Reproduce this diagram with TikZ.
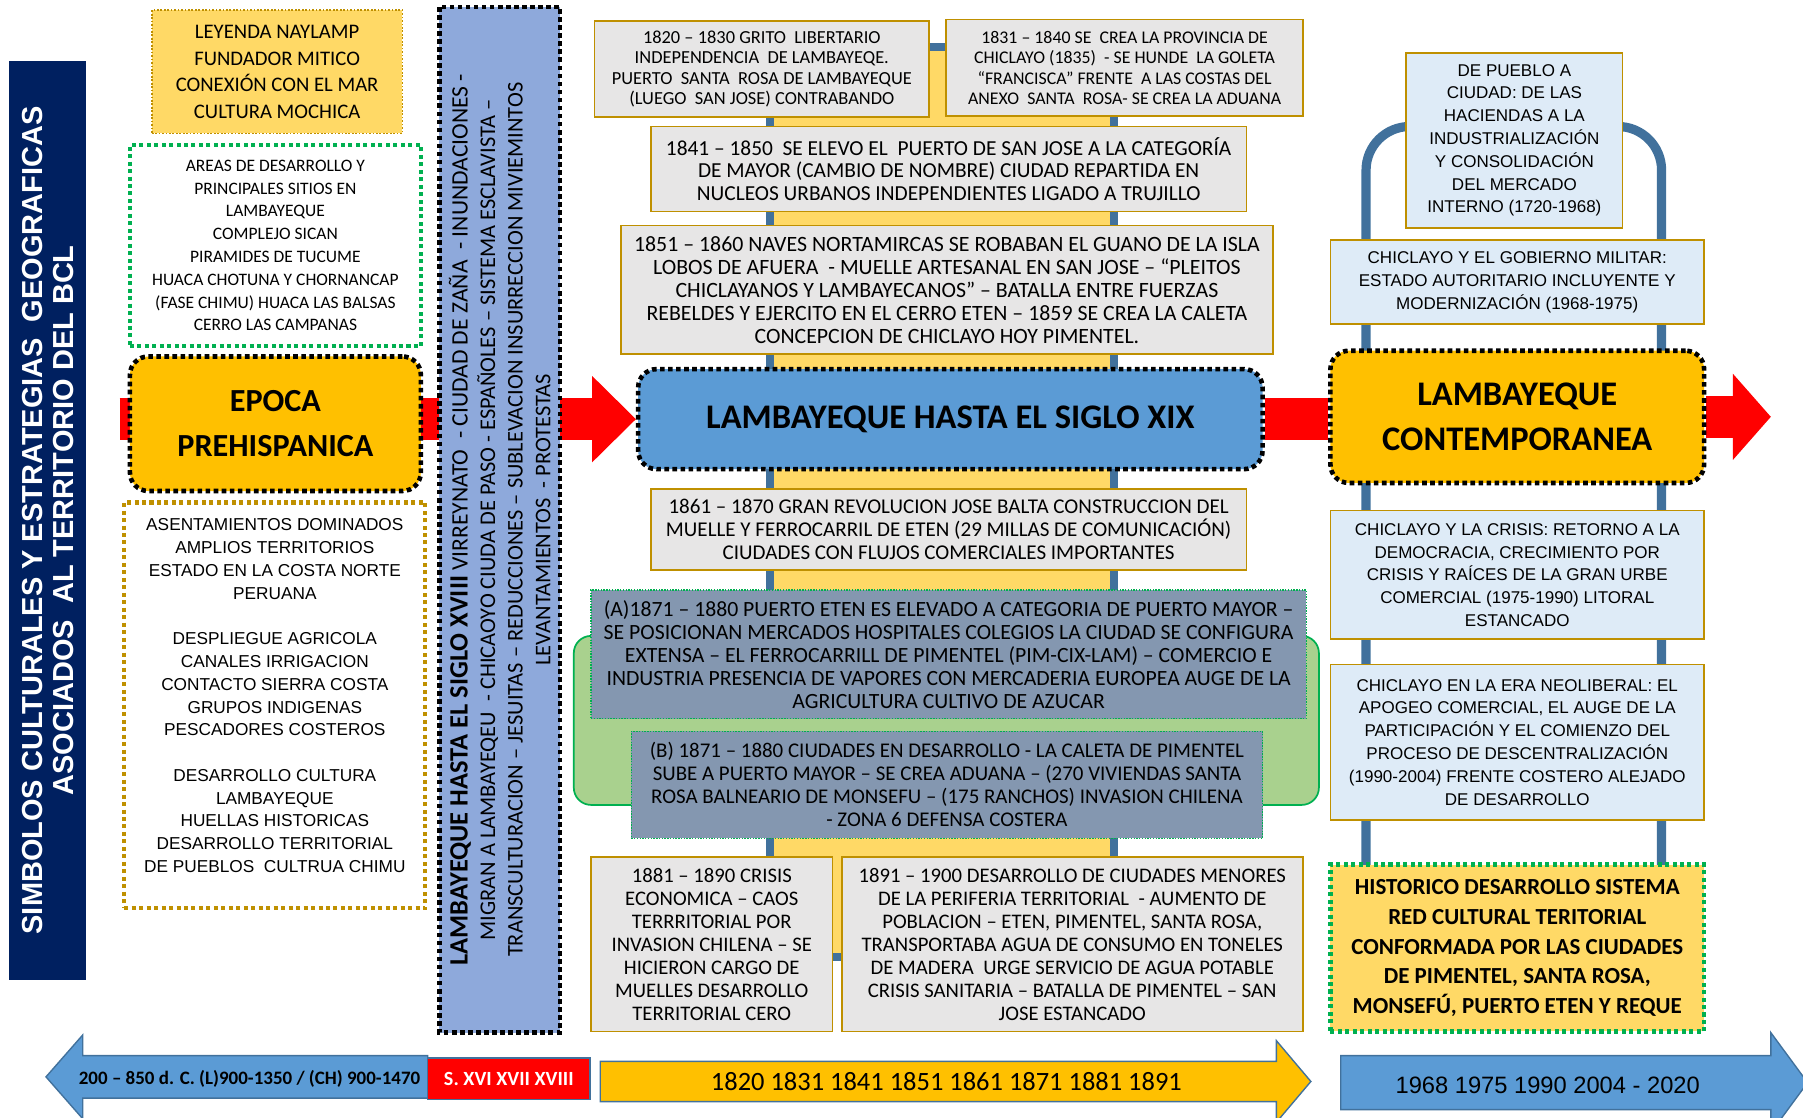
\documentclass[tikz,border=0pt]{standalone}
\usepackage{fontspec}
\setmainfont{Carlito}
\newfontfamily\arialfont{Liberation Sans}
\usetikzlibrary{calc,backgrounds}
\definecolor{navy}{HTML}{002060}
\definecolor{goldline}{HTML}{BF9000}
\definecolor{goldfill}{HTML}{FFD966}
\definecolor{orangefill}{HTML}{FFC000}
\definecolor{greendot}{HTML}{00B050}
\definecolor{greylight}{HTML}{E7E6E6}
\definecolor{bluemain}{HTML}{5B9BD5}
\definecolor{bluevert}{HTML}{8EA9DB}
\definecolor{slate}{HTML}{8497B0}
\definecolor{greenbg}{HTML}{A9D18E}
\definecolor{bluelight}{HTML}{DEEBF7}
\definecolor{steel}{HTML}{41719C}
\definecolor{redbar}{HTML}{FF0000}
\tikzset{
  dims/.style 2 args={minimum width=#1pt, minimum height=#2pt},
  greybox/.style={draw=goldline, fill=greylight, line width=1.5pt, align=center, inner sep=0pt, font=\fontsize{18}{20}\selectfont},
  lightbox/.style={draw=goldline, fill=bluelight, line width=1.5pt, align=center, inner sep=0pt, font=\arialfont\fontsize{14.8}{19.8}\selectfont},
  slatebox/.style={draw=greendot, fill=slate, line width=1.2pt, dash pattern=on 1.2pt off 1.2pt, align=center, inner sep=0pt, font=\fontsize{18}{20}\selectfont},
  bigbox/.style={draw=black, line width=4pt, dash pattern=on 4pt off 3pt, rounded corners=16pt, align=center, inner sep=0pt, font=\bfseries\fontsize{28}{39}\selectfont},
  dotbox/.style={line width=3.5pt, dash pattern=on 3.5pt off 3pt, align=center, inner sep=0pt},
  timebar/.style={draw=steel, line width=1.2pt}
}
\begin{document}
\begin{tikzpicture}[x=1pt, y=-1pt]
\useasboundingbox (0,0) rectangle (1568,972);
\coordinate (rojoinicio) at (104,364.5);

% columna izquierda
\node (titulo) [rotate=90, dims={799}{67}, fill=navy, text=white, align=center, inner sep=0pt, font=\arialfont\bfseries\fontsize{25.2}{27}\selectfont] at (41.5,452.5) {SIMBOLOS CULTURALES Y ESTRATEGIAS \ GEOGRAFICAS\\ASOCIADOS \ AL TERRITORIO DEL BCL};
\node (leyenda) [dims={218}{107}, fill=goldfill, draw=goldline, line width=1.5pt, dash pattern=on 1.5pt off 1.5pt, align=center, inner sep=0pt, font=\fontsize{18}{23.3}\selectfont] at (241,62.5) {LEYENDA NAYLAMP\\FUNDADOR MITICO\\CONEXIÓN CON EL MAR\\CULTURA MOCHICA};
\node (areas) [dotbox, dims={253}{175}, fill=white, draw=greendot, font=\fontsize{15.2}{19.8}\selectfont] at (239.5,213.5) {AREAS DE DESARROLLO Y\\PRINCIPALES SITIOS EN\\LAMBAYEQUE\\COMPLEJO SICAN\\PIRAMIDES DE TUCUME\\HUACA CHOTUNA Y CHORNANCAP\\(FASE CHIMU) HUACA LAS BALSAS\\CERRO LAS CAMPANAS};
\node (epoca) [bigbox, dims={253}{117}, fill=orangefill] at (239.5,368.5) {EPOCA\\PREHISPANICA};
\node (asentamientos) [dotbox, dims={262}{353}, fill=white, draw=goldline] at (239,613.5) {};
\node (asenttexto) [align=center, font=\arialfont\fontsize{15}{19.8}\selectfont] at (239,605) {ASENTAMIENTOS DOMINADOS\\AMPLIOS TERRITORIOS\\ESTADO EN LA COSTA NORTE\\PERUANA\\[19.8pt]DESPLIEGUE AGRICOLA\\CANALES IRRIGACION\\CONTACTO SIERRA COSTA\\GRUPOS INDIGENAS\\PESCADORES COSTEROS\\[19.8pt]DESARROLLO CULTURA\\LAMBAYEQUE\\HUELLAS HISTORICAS\\DESARROLLO TERRITORIAL\\DE PUEBLOS \ CULTRUA CHIMU};
\node (siglo18) [rotate=90, dims={892}{105}, fill=bluevert, draw=black, line width=4pt, dash pattern=on 4pt off 3pt, align=center, inner sep=0pt, font=\fontsize{19.5}{24}\selectfont] at (434.5,452) {{\bfseries\fontsize{23}{24}\selectfont LAMBAYEQUE HASTA EL SIGLO XVIII} {\fontsize{20.5}{24}\selectfont VIRREYNATO \ - CIUDAD DE ZAÑA \ - INUNDACIONES -}\\MIGRAN A LAMBAYEQEU \ - CHICAOYO CIUDA DE PASO - ESPAÑOLES – SISTEMA ESCLAVISTA –\\TRANSCULTURACION – JESUITAS – REDUCCIONES – SUBLEVACION INSURRECCION MIVIEMINTOS\\LEVANTAMIENTOS \ - PROTESTAS};

% columna central
\node (g1820) [greybox, dims={291}{84}, font=\fontsize{16}{17.7}\selectfont] at (662.5,60) {1820 – 1830 GRITO \ LIBERTARIO\\INDEPENDENCIA \ DE LAMBAYEQE.\\PUERTO \ SANTA \ ROSA DE LAMBAYEQUE\\(LUEGO \ SAN JOSE) CONTRABANDO};
\node (g1831) [greybox, dims={310}{84}, font=\fontsize{15.5}{17.7}\selectfont] at (978,59) {1831 – 1840 SE \ CREA LA PROVINCIA DE\\CHICLAYO (1835) \ - SE HUNDE \ LA GOLETA\\“FRANCISCA” FRENTE \ A LAS COSTAS DEL\\ANEXO \ SANTA \ ROSA- SE CREA LA ADUANA};
\node (g1841) [greybox, dims={518}{74}, font=\fontsize{18.6}{19.5}\selectfont] at (825,147) {1841 – 1850 \ SE ELEVO EL \ PUERTO DE SAN JOSE A LA CATEGORÍA\\DE MAYOR (CAMBIO DE NOMBRE) CIUDAD REPARTIDA EN\\NUCLEOS URBANOS INDEPENDIENTES LIGADO A TRUJILLO};
\node (g1851) [greybox, dims={567}{112}, font=\fontsize{19}{20}\selectfont] at (823.5,252) {1851 – 1860 NAVES NORTAMIRCAS SE ROBABAN EL GUANO DE LA ISLA\\LOBOS DE AFUERA \ - MUELLE ARTESANAL EN SAN JOSE – “PLEITOS\\CHICLAYANOS Y LAMBAYECANOS” – BATALLA ENTRE FUERZAS\\REBELDES Y EJERCITO EN EL CERRO ETEN – 1859 SE CREA LA CALETA\\CONCEPCION DE CHICLAYO HOY PIMENTEL.};
\node (principal) [bigbox, dims={543}{87}, fill=bluemain, font=\bfseries\fontsize{30}{39}\selectfont] at (826.5,364.5) {LAMBAYEQUE HASTA EL SIGLO XIX};
\node (g1861) [greybox, dims={518}{71}, font=\fontsize{18.3}{20}\selectfont] at (825,460.5) {1861 – 1870 GRAN REVOLUCION JOSE BALTA CONSTRUCCION DEL\\MUELLE Y FERROCARRIL DE ETEN (29 MILLAS DE COMUNICACIÓN)\\CIUDADES CON FLUJOS COMERCIALES IMPORTANTES};
\node (g1871a) [slatebox, dims={622}{112}, font=\fontsize{18.9}{20}\selectfont] at (825,569) {(A)1871 – 1880 PUERTO ETEN ES ELEVADO A CATEGORIA DE PUERTO MAYOR –\\SE POSICIONAN MERCADOS HOSPITALES COLEGIOS LA CIUDAD SE CONFIGURA\\EXTENSA – EL FERROCARRILL DE PIMENTEL (PIM-CIX-LAM) – COMERCIO E\\INDUSTRIA PRESENCIA DE VAPORES CON MERCADERIA EUROPEA AUGE DE LA\\AGRICULTURA CULTIVO DE AZUCAR};
\node (g1871b) [slatebox, dims={549}{93}, font=\fontsize{18.2}{20}\selectfont] at (823.5,682.5) {(B) 1871 – 1880 CIUDADES EN DESARROLLO - LA CALETA DE PIMENTEL\\SUBE A PUERTO MAYOR – SE CREA ADUANA – (270 VIVIENDAS SANTA\\ROSA BALNEARIO DE MONSEFU – (175 RANCHOS) INVASION CHILENA\\- ZONA 6 DEFENSA COSTERA};
\node (g1881) [greybox, dims={210}{152}] at (619,821) {1881 – 1890 CRISIS\\ECONOMICA – CAOS\\TERRRITORIAL POR\\INVASION CHILENA – SE\\HICIERON CARGO DE\\MUELLES DESARROLLO\\TERRITORIAL CERO};
\node (g1891) [greybox, dims={401}{152}] at (932.5,821) {1891 – 1900 DESARROLLO DE CIUDADES MENORES\\DE LA PERIFERIA TERRITORIAL \ - AUMENTO DE\\POBLACION – ETEN, PIMENTEL, SANTA ROSA,\\TRANSPORTABA AGUA DE CONSUMO EN TONELES\\DE MADERA \ URGE SERVICIO DE AGUA POTABLE\\CRISIS SANITARIA – BATALLA DE PIMENTEL – SAN\\JOSE ESTANCADO};

% columna derecha
\node (pueblo) [lightbox, dims={188}{152}] at (1317,122) {DE PUEBLO A\\CIUDAD: DE LAS\\HACIENDAS A LA\\INDUSTRIALIZACIÓN\\Y CONSOLIDACIÓN\\DEL MERCADO\\INTERNO (1720-1968)};
\node (militar) [lightbox, dims={325}{73}] at (1319.5,245.5) {CHICLAYO Y EL GOBIERNO MILITAR:\\ESTADO AUTORITARIO INCLUYENTE Y\\MODERNIZACIÓN (1968-1975)};
\node (contemp) [bigbox, dims={325}{115}, fill=orangefill, font=\bfseries\fontsize{30}{39}\selectfont] at (1319.5,362.5) {LAMBAYEQUE\\CONTEMPORANEA};
\node (crisis) [lightbox, dims={325}{112}] at (1319.5,500) {CHICLAYO Y LA CRISIS: RETORNO A LA\\DEMOCRACIA, CRECIMIENTO POR\\CRISIS Y RAÍCES DE LA GRAN URBE\\COMERCIAL (1975-1990) LITORAL\\ESTANCADO};
\node (neoliberal) [lightbox, dims={325}{135}] at (1319.5,645.5) {CHICLAYO EN LA ERA NEOLIBERAL: EL\\APOGEO COMERCIAL, EL AUGE DE LA\\PARTICIPACIÓN Y EL COMIENZO DEL\\PROCESO DE DESCENTRALIZACIÓN\\(1990-2004) FRENTE COSTERO ALEJADO\\DE DESARROLLO};
\node (historico) [dotbox, dims={325}{145}, fill=goldfill, draw=greendot, line width=4pt, font=\bfseries\fontsize{20}{26}\selectfont] at (1319.5,824.5) {HISTORICO DESARROLLO SISTEMA\\RED CULTURAL TERITORIAL\\CONFORMADA POR LAS CIUDADES\\DE PIMENTEL, SANTA ROSA,\\MONSEFÚ, PUERTO ETEN Y REQUE};

% fondos y flechas rojas
\begin{scope}[on background layer]
\draw[steel, line width=7pt, fill=goldfill] (670,41) rectangle (969,832);
\draw[greendot, line width=1.5pt, fill=greenbg, rounded corners=15pt] (499,553) rectangle (1147,700);
\draw[steel, line width=8pt, rounded corners=38pt] (1188,760) |- (1445,110) -- (1445,760);
\draw[redbar, line width=37pt] (rojoinicio) -- ($(principal.west)+(-36,0)$);
\fill[redbar] ($(principal.west)+(-38,-37.5)$) -- (principal.west) -- ($(principal.west)+(-38,37.5)$) -- cycle;
\draw[redbar, line width=37pt] (principal.east) -- (principal.east -| contemp.west);
\draw[redbar, line width=37pt] (contemp.east) -- ++(25,0);
\fill[redbar] ($(contemp.east)+(23,-37.5)$) -- ($(contemp.east)+(56,0)$) -- ($(contemp.east)+(23,37.5)$) -- cycle;
\end{scope}

% linea de tiempo
\filldraw[timebar, fill=bluemain] (372,918) -- (72,918) -- (72,900) -- (40,936.5) -- (72,973) -- (72,955) -- (372,955) -- cycle;
\node (fechas1) [font=\bfseries\fontsize{16.5}{20}\selectfont] at (217,938) {200 – 850 d. C. (L)900-1350 / (CH) 900-1470};
\node (siglos) [timebar, dims={141}{36}, fill=redbar, text=white, inner sep=0pt, font=\bfseries\fontsize{17.5}{20}\selectfont] at (442.5,938) {S. XVI XVII XVIII};
\filldraw[timebar, fill=orangefill] (522,923) -- (1110,923) -- (1110,905) -- (1140,940.5) -- (1110,976) -- (1110,958) -- (522,958) -- cycle;
\node (fechas2) [font=\fontsize{23}{26}\selectfont] at (823,941) {1820 1831 1841 1851 1861 1871 1881 1891};
\filldraw[timebar, fill=bluemain] (1166,918) -- (1540,918) -- (1540,898) -- (1572,941.5) -- (1540,985) -- (1540,965) -- (1166,965) -- cycle;
\node (fechas3) [font=\arialfont\fontsize{20.6}{24}\selectfont] at (1346,944) {1968 1975 1990 2004 - 2020};
\end{tikzpicture}
\end{document}
